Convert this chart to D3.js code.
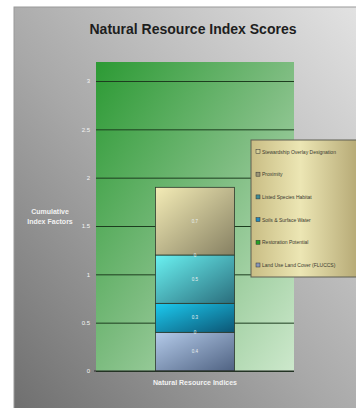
<!DOCTYPE html>
<html>
<head>
<meta charset="utf-8">
<script src="https://cdn.jsdelivr.net/npm/d3@7"></script>
<style>
  body { margin: 0; background: #fff; }
  svg { display: block; font-family: "Liberation Sans", Arial, sans-serif; }
</style>
</head>
<body>
<div id="chart"></div>
<script>
// stacked from the bottom up
const seriesNames = ["Land Use  Land Cover (FLUCCS)", "Restoration Potential", "Soils & Surface Water",
  "Listed Species Habitat", "Proximity", "Stewardship Overlay Designation"];
const seriesValues = [0.4, 0, 0.3, 0.5, 0, 0.7];
const category = ["Natural Resource  Indices"];
const yTicks = [0, 0.5, 1, 1.5, 2, 2.5, 3];

const fills = [
  ["#b4cbea", "#4f6282"],
  ["#3aa83a", "#1f7a1f"],
  ["#1ccbf0", "#0c5574"],
  ["#6af2f2", "#2a6d7c"],
  ["#b0a880", "#7a7258"],
  ["#f4ecb6", "#868062"]
];
const keyColors = ["#8896b8", "#24a024", "#2488b8", "#3f8c94", "#9c9676", "#d6cf98"];

const width = 356, height = 408;
const plot = { left: 96, right: 294, top: 62, bottom: 371 };

const svg = d3.select("#chart").append("svg")
  .attr("width", width).attr("height", height);

const defs = svg.append("defs");
function grad(id, stops, x1, y1, x2, y2) {
  const g = defs.append("linearGradient").attr("id", id)
    .attr("x1", x1).attr("y1", y1).attr("x2", x2).attr("y2", y2);
  stops.forEach(s => g.append("stop").attr("offset", s[0]).attr("stop-color", s[1]));
}
grad("bg", [[0, "#6e6e6e"], [0.45, "#a8a8a8"], [1, "#e4e4e4"]], 0, 1, 1, 0);
grad("plotbg", [[0, "#2c9a34"], [0.5, "#7dbc80"], [1, "#cde8cc"]], 0, 0, 1, 1);
grad("legbg", [[0, "#c9bd84"], [0.45, "#ece6b4"], [1, "#b3a672"]], 0, 0, 1, 0);
fills.forEach((f, i) => grad("seg" + i, [[0, f[0]], [1, f[1]]], 0, 0, 1, 1));

// frame
svg.append("rect").attr("x", 14).attr("y", 7).attr("width", width).attr("height", height)
  .attr("fill", "url(#bg)").attr("stroke", "#9a9a9a").attr("stroke-width", 1);

svg.append("text").attr("x", 193).attr("y", 34).attr("text-anchor", "middle")
  .attr("font-size", 14).attr("font-weight", "bold").attr("fill", "#1e1e1e")
  .text("Natural Resource Index Scores");

const y = d3.scaleLinear().domain([0, 3]).range([plot.bottom, plot.bottom - 290]);
const x = d3.scaleBand().domain(category).range([plot.left, plot.right])
  .paddingInner(0.6).paddingOuter(0.3);

svg.append("rect").attr("x", plot.left).attr("y", plot.top)
  .attr("width", plot.right - plot.left).attr("height", plot.bottom - plot.top)
  .attr("fill", "url(#plotbg)");

const yAxis = svg.append("g").attr("transform", `translate(${plot.left},0)`)
  .call(d3.axisLeft(y).tickValues(yTicks).tickSize(-(plot.right - plot.left)).tickPadding(6)
    .tickFormat(d3.format("")));
yAxis.select(".domain").remove();
yAxis.selectAll("line").attr("stroke", "#1d3d1f").attr("stroke-width", 1);
yAxis.selectAll("text").attr("fill", "#f4f4f4").attr("font-size", 6);

// stacked bar
const stack = [];
let acc = 0;
seriesValues.forEach((v, i) => { stack.push({ i, v, y0: acc, y1: acc + v }); acc += v; });

const bx = x(category[0]), bw = x.bandwidth();
svg.selectAll("rect.seg").data(stack).enter().append("rect")
  .attr("class", "seg")
  .attr("x", bx).attr("width", bw)
  .attr("y", d => y(d.y1)).attr("height", d => y(d.y0) - y(d.y1))
  .attr("fill", d => `url(#seg${d.i})`)
  .attr("stroke", "#2c3a2c").attr("stroke-width", 0.8);

svg.selectAll("text.val").data(stack).enter().append("text")
  .attr("class", "val")
  .attr("x", bx + bw / 2)
  .attr("y", d => y((d.y0 + d.y1) / 2) + 1.5)
  .attr("text-anchor", "middle").attr("font-size", 4.5).attr("fill", "#e8eef0")
  .text(d => d.v);

// x axis line
svg.append("line").attr("x1", plot.left - 2).attr("x2", plot.right)
  .attr("y1", y(0)).attr("y2", y(0)).attr("stroke", "#2a2a2a").attr("stroke-width", 1.2);

svg.append("text").attr("x", bx + bw / 2).attr("y", 385).attr("text-anchor", "middle")
  .attr("font-size", 7).attr("font-weight", "bold").attr("fill", "#f2f2f2")
  .text(category[0]);

const yl = svg.append("text").attr("text-anchor", "middle").attr("font-size", 7)
  .attr("font-weight", "bold").attr("fill", "#f2f2f2");
yl.append("tspan").attr("x", 50).attr("y", 214).text("Cumulative");
yl.append("tspan").attr("x", 50).attr("y", 224).text("Index Factors");

// legend
const leg = svg.append("g").attr("transform", "translate(251,140)");
leg.append("rect").attr("width", 110).attr("height", 137)
  .attr("fill", "url(#legbg)").attr("stroke", "#5f5f52").attr("stroke-width", 1);
const items = seriesNames.map((n, i) => ({ n, i })).reverse();
const li = leg.selectAll("g.item").data(items).enter().append("g")
  .attr("transform", (d, k) => `translate(5,${13 + k * 22.7})`);
li.append("rect").attr("width", 4).attr("height", 4).attr("y", -3.5)
  .attr("fill", d => keyColors[d.i]).attr("stroke", "#333").attr("stroke-width", 0.5);
li.append("text").attr("x", 6).attr("y", 0.5).attr("font-size", 5).attr("fill", "#3a3a30")
  .text(d => d.n);
</script>
</body>
</html>
